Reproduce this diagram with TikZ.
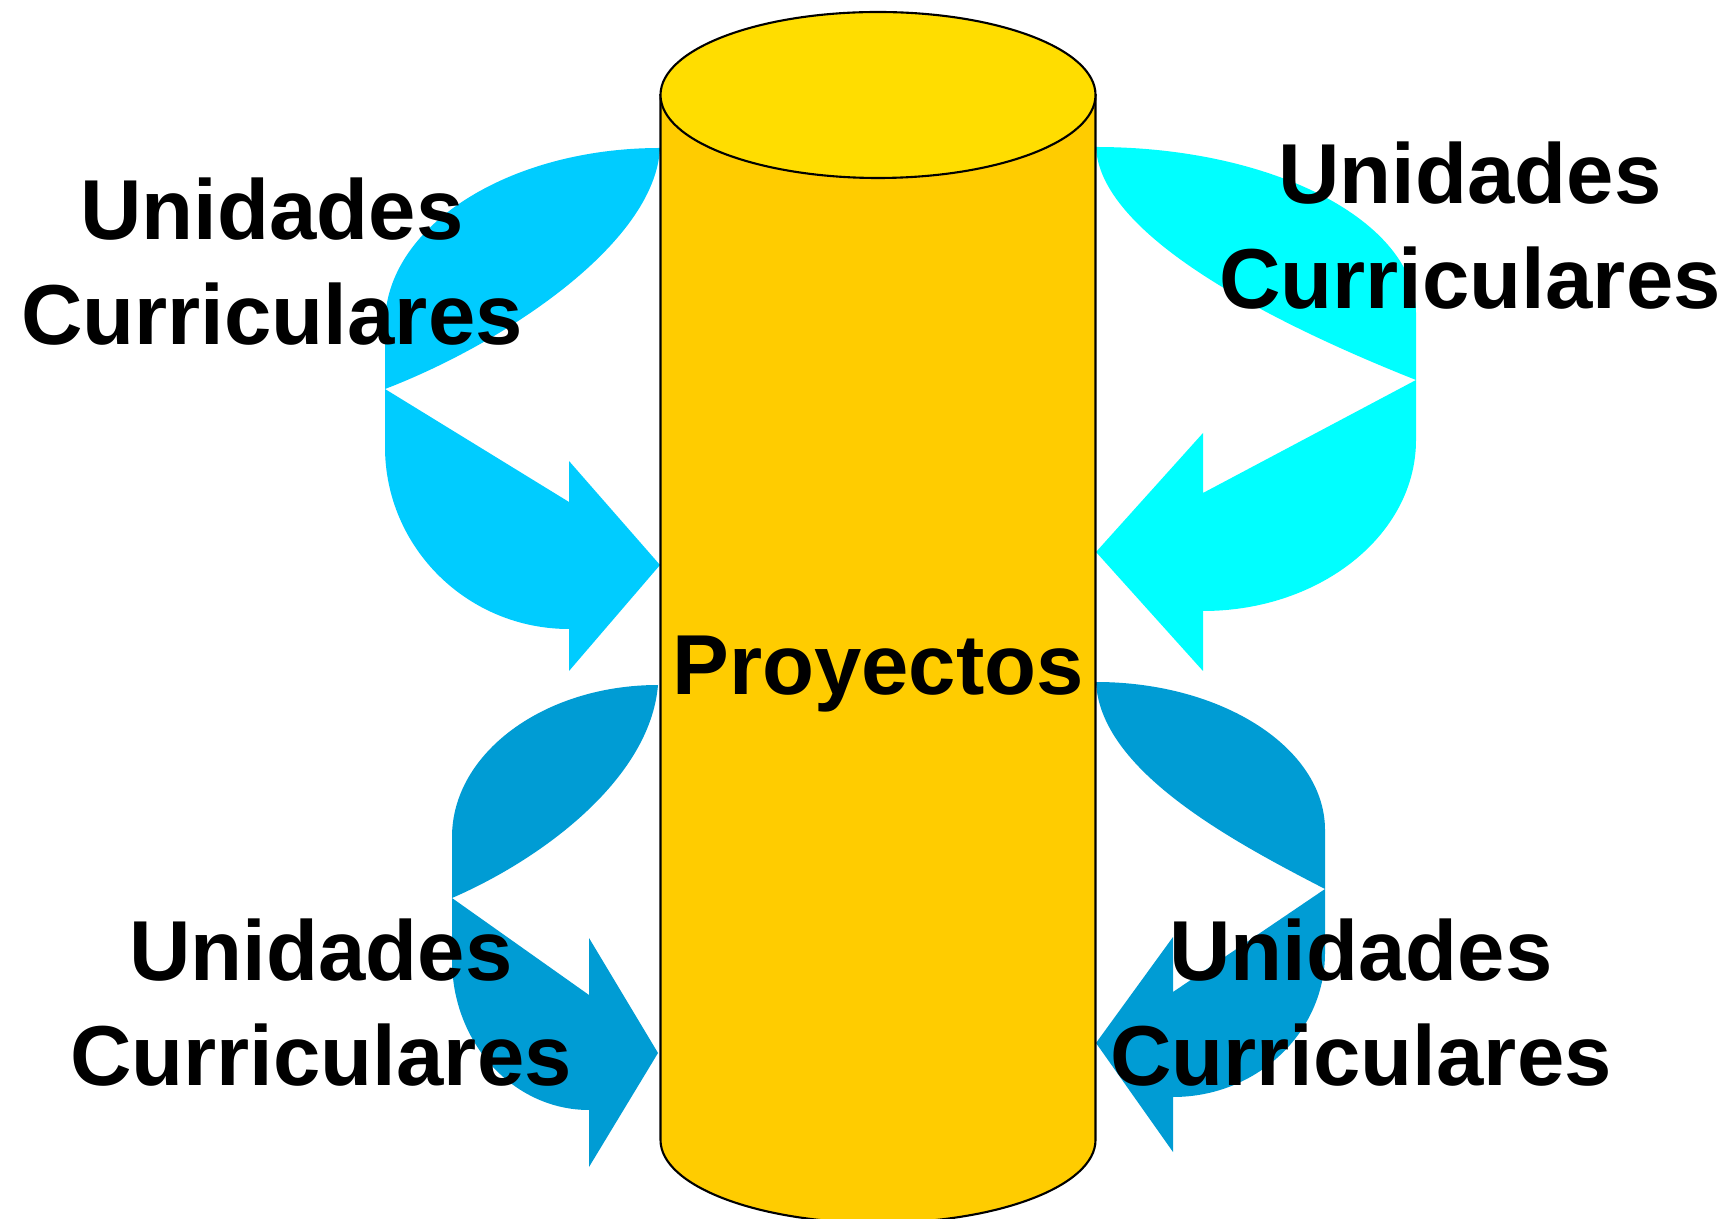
\documentclass[tikz,border=0pt]{standalone}
\usepackage{fontspec}
\setmainfont{Liberation Sans}
\usetikzlibrary{calc}

\definecolor{azulSup}{HTML}{00CCFF}
\definecolor{cianSup}{HTML}{00FFFF}
\definecolor{azulInf}{HTML}{009CD4}
\definecolor{cilCuerpo}{HTML}{FFCC00}
\definecolor{cilTapa}{HTML}{FFDD00}

\begin{document}
\begin{tikzpicture}[x=0.01cm, y=-0.01cm,
    texto/.style={font=\fontsize{24.2}{29.9}\selectfont\bfseries, inner sep=0pt, align=center},
    flecha/.style={draw=none}]
    % Frame (pixel units, y pointing down)
    \useasboundingbox (0,0) rectangle (1730,1219);

    % Arrows, top left
    \fill[azulSup] (660,148) arc (270:180:275 and 176) -- (385,447)
        arc (180:90:184 and 182) -- (569,671) -- (660,565) -- (569,461)
        -- (569,502) -- (385,389) .. controls (500,345) and (655,245) .. (660,148) -- cycle;
    % Arrows, top right
    \fill[cianSup] (1096,147) arc (270:360:320 and 166) -- (1416,440)
        arc (0:90:213 and 171) -- (1203,671) -- (1096,552) -- (1203,433)
        -- (1203,493) -- (1416,380) .. controls (1290,330) and (1100,240) .. (1096,147) -- cycle;
    % Arrows, bottom left
    \fill[azulInf] (658,685) arc (270:180:206 and 152) -- (452,960)
        arc (180:90:137 and 150) -- (589,1167) -- (658,1053) -- (589,938)
        -- (589,995) -- (452,898) .. controls (540,860) and (650,780) .. (658,685) -- cycle;
    % Arrows, bottom right
    \fill[azulInf] (1096,682) arc (270:360:229 and 148) -- (1325,953)
        arc (0:90:152 and 144) -- (1173,1152) -- (1096,1043) -- (1173,937)
        -- (1173,992) -- (1325,889) .. controls (1230,840) and (1100,770) .. (1096,682) -- cycle;

    % Cylinder
    \filldraw[fill=cilCuerpo, line width=0.6pt] (660.5,95) -- (660.5,1140)
        arc (180:0:217.5 and 83) -- (1095.5,95) -- cycle;
    \filldraw[fill=cilTapa, line width=0.6pt] (878,95) ellipse (217.5 and 83);

    % Texts
    \node[texto, anchor=base] (proy) at (878,695) {Proyectos};
    \node[texto] (ucTL) at (272,262) {Unidades\\Curriculares};
    \node[texto] (ucTR) at (1470,226) {Unidades\\Curriculares};
    \node[texto] (ucBL) at (321,1003) {Unidades\\Curriculares};
    \node[texto] (ucBR) at (1361,1003) {Unidades\\Curriculares};
\end{tikzpicture}
\end{document}
